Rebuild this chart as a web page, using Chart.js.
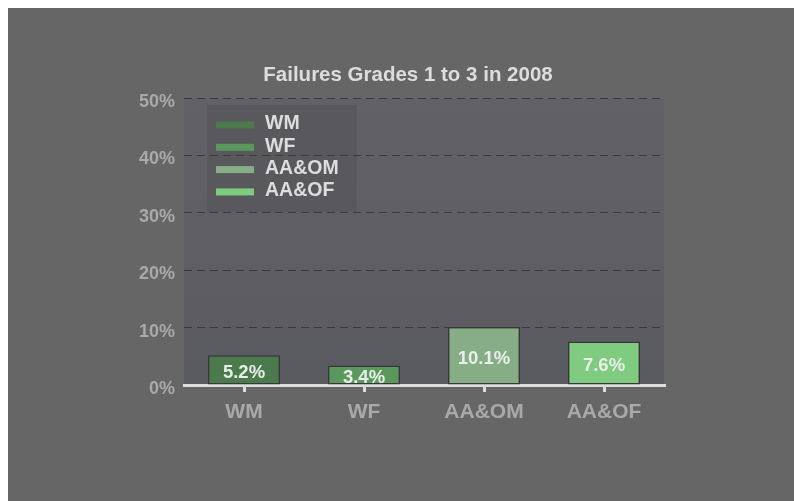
<!DOCTYPE html>
<html>
<head>
<meta charset="utf-8">
<script src="https://cdn.jsdelivr.net/npm/chart.js@4.4.1/dist/chart.umd.min.js"></script>
<style>
  html { overflow: hidden; }
  body { margin: 8px 0 0 8px; background: #fff; }
  #wrap { width: 786px; height: 493px; background: #666666; }
</style>
</head>
<body>
<div id="wrap"><canvas id="myChart"></canvas></div>
<script>
// data
const chartTitle = "Failures Grades 1 to 3 in 2008";
const categories = ["WM", "WF", "AA&OM", "AA&OF"];
const failRates = [5.2, 3.4, 10.1, 7.6];
const barColors = ["#4b7a4c", "#5b985d", "#86ad86", "#7fcb80"];
const yTicks = [0, 10, 20, 30, 40, 50];

const FONT = "'Liberation Sans', Arial, sans-serif";

// plot background, title and legend box
const plotBg = {
  id: "plotBg",
  beforeDraw(chart) {
    const { ctx, chartArea: a } = chart;
    ctx.save();
    const g = ctx.createLinearGradient(0, a.top, 0, a.bottom);
    g.addColorStop(0, "#626266");
    g.addColorStop(1, "#5a5a61");
    ctx.fillStyle = g;
    ctx.fillRect(a.left, a.top, a.right - a.left, a.bottom - a.top);

    // title
    ctx.font = "bold 20.5px " + FONT;
    ctx.fillStyle = "#dddddd";
    ctx.textAlign = "center";
    ctx.textBaseline = "middle";
    ctx.fillText(chartTitle, (a.left + a.right) / 2 - 16, a.top - 23);

    // legend
    const lx = a.left + 23, ly = a.top + 7;
    ctx.fillStyle = "#59595d";
    ctx.fillRect(lx, ly, 150, 107);
    ctx.font = "bold 19.5px " + FONT;
    ctx.textAlign = "left";
    categories.forEach((c, i) => {
      const cy = ly + 20 + i * 22.3;
      ctx.fillStyle = barColors[i];
      ctx.fillRect(lx + 9, cy - 3.5, 38, 7);
      ctx.fillStyle = "#dddddd";
      ctx.fillText(c, lx + 58, cy - 1);
    });
    ctx.restore();
  },
};

// value labels inside bars
const barLabels = {
  id: "barLabels",
  afterDatasetsDraw(chart) {
    const { ctx } = chart;
    const meta = chart.getDatasetMeta(0);
    ctx.save();
    ctx.font = "bold 18.5px " + FONT;
    ctx.fillStyle = "#e8eee8";
    ctx.textAlign = "center";
    ctx.textBaseline = "middle";
    meta.data.forEach((bar, i) => {
      ctx.fillText(failRates[i].toFixed(1) + "%", bar.x, (bar.y + bar.base) / 2 + 3);
    });
    ctx.restore();
  },
};

const ctx = document.getElementById("myChart");
new Chart(ctx, {
  type: "bar",
  data: {
    labels: categories,
    datasets: [
      {
        label: "Failures",
        data: failRates,
        backgroundColor: barColors,
        borderColor: "#383838",
        borderWidth: 1.5,
        borderSkipped: false,
        barPercentage: 0.6,
        categoryPercentage: 1,
      },
    ],
  },
  options: {
    responsive: true,
    maintainAspectRatio: false,
    animation: false,
    events: [],
    layout: {
      padding: { left: 116, right: 130, top: 90, bottom: 76 },
    },
    plugins: {
      legend: { display: false },
      tooltip: { enabled: false },
      title: { display: false },
    },
    scales: {
      x: {
        z: 1,
        afterFit: (s) => { s.height = 40; },
        grid: {
          offset: false,
          drawOnChartArea: false,
          drawTicks: true,
          tickLength: 7,
          color: "#dddddd",
          lineWidth: 3,
        },
        border: { display: true, color: "#dddddd", width: 3 },
        ticks: {
          color: "#a9a9a9",
          padding: 8,
          font: { family: FONT, size: 21, weight: "bold" },
        },
      },
      y: {
        min: yTicks[0],
        max: yTicks[yTicks.length - 1],
        afterFit: (s) => { s.width = 60; },
        afterBuildTicks: (s) => { s.ticks = yTicks.map((v) => ({ value: v })); },
        grid: {
          drawTicks: false,
          color: "#3a3a3a",
          lineWidth: 1,
        },
        border: { display: false, dash: [8, 5] },
        ticks: {
          color: "#a9a9a9",
          padding: 9,
          labelOffset: 4,
          font: { family: FONT, size: 18, weight: "bold" },
          callback: (v) => v + "%",
        },
      },
    },
  },
  plugins: [plotBg, barLabels],
});
</script>
</body>
</html>
